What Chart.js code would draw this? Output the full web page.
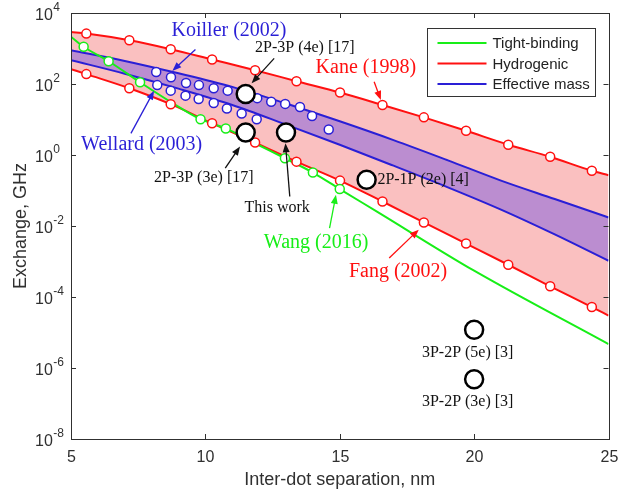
<!DOCTYPE html>
<html>
<head>
<meta charset="utf-8">
<script src="https://cdn.jsdelivr.net/npm/chart.js@4.4.0/dist/chart.umd.min.js"></script>
<style>
  html, body { margin: 0; padding: 0; background: #fff; }
</style>
</head>
<body>
<canvas id="chart" width="620" height="491"></canvas>
<script>
// hydrogenic curves (Kane upper, Fang lower), first/last entries are the line ends
const hydX = [5, 5.57, 7.17, 8.71, 10.25, 11.85, 13.39, 15.01, 16.59, 18.13, 19.70, 21.27, 22.83, 24.38, 25];
const kaneY = [2900, 2630, 1700, 955, 490, 245, 120, 57.5, 25.7, 11.5, 4.8, 1.95, 0.89, 0.36, 0.27];
const fangY = [263, 190, 76, 27, 7.8, 2.24, 0.65, 0.19, 0.049, 0.0126, 0.0032, 8.1e-4, 2.0e-4, 5.2e-5, 3.0e-5];

// effective mass band
const emX = [5, 7, 9, 11, 13, 15, 17, 19, 21, 23, 25];
const emUpperY = [891, 447, 200, 83, 28.2, 8.9, 2.63, 0.72, 0.19, 0.0575, 0.0174];
const emLowerY = [468, 195, 74, 25.7, 7.2, 1.95, 0.5, 0.125, 0.029, 0.0058, 0.00105];

// tight-binding (Wang 2016)
const tbX = [5, 5.47, 6.40, 7.57, 8.7, 9.82, 10.76, 11.9, 12.96, 14.0, 15.0, 16.4, 20, 25];
const tbY = [2140, 1120, 437, 112, 31.6, 10.2, 5.6, 2.04, 0.81, 0.32, 0.11, 0.025, 5.5e-4, 4.7e-6];
const tbMarkX = [5.47, 6.40, 7.57, 9.82, 10.76, 12.96, 14.0, 15.0];
const tbMarkY = [1120, 437, 112, 10.2, 5.6, 0.81, 0.32, 0.11];

// Koiller (2002) and Wellard (2003) points
const koillerX = [8.17, 8.72, 9.28, 9.76, 10.31, 10.83, 11.93, 12.45, 12.97, 13.52, 13.97, 14.59];
const koillerY = [219, 155, 107, 93, 76, 65, 40, 31.6, 27.5, 22.4, 12.6, 5.2];
const wellardX = [8.21, 8.71, 9.26, 9.75, 10.31, 10.80, 11.35, 11.91];
const wellardY = [93, 65, 47, 38, 29, 20.4, 14.8, 10.2];

// experiments
const expX = [11.5, 11.5, 13, 16, 20, 20];
const expY = [52, 4.3, 4.3, 0.2, 1.2e-5, 4.8e-7];

const xTicks = [5, 10, 15, 20, 25];
const yExps = [-8, -6, -4, -2, 0, 2, 4];
const legendItems = ['Tight-binding', 'Hydrogenic', 'Effective mass'];

const RED = '#ff1010';
const GREEN = '#18ee18';
const BLUE = '#2a1fd6';
const PINK = '#fac0c0';
const PURPLE = '#bb8dd0';
const AXIS = '#303030';
const SERIF = '"Liberation Serif", "Times New Roman", serif';
const SANS = '"Liberation Sans", Arial, sans-serif';

// text labels with arrows: [text, color, size, x, y, align, arrow]
const notes = [
    ['Koiller (2002)', BLUE, 20, 10.88, 3240, 'center', [9.63, 933, 8.77, 234]],
    ['Wellard (2003)', BLUE, 20, 7.63, 1.9, 'center', [7.23, 4.07, 8.09, 64.6]],
    ['2P-3P (4e) [17]', '#111', 16, 13.70, 1047, 'center', [12.56, 525, 11.72, 105]],
    ['Kane (1998)', RED, 20, 15.97, 288, 'center', [16.28, 115, 16.53, 35.5]],
    ['2P-3P (3e) [17]', '#111', 16, 9.94, 0.224, 'center', [10.74, 0.427, 11.29, 1.74]],
    ['This work', '#111', 16, 12.67, 0.0316, 'center', [13.14, 0.0676, 12.98, 2.14]],
    ['Wang (2016)', GREEN, 20, 14.12, 0.00339, 'center', [14.62, 0.0087, 14.86, 0.076]],
    ['Fang (2002)', RED, 20, 17.17, 5.2e-4, 'center', [16.84, 1.26e-3, 17.94, 7.9e-3]],
    ['2P-1P (2e) [4]', '#111', 16, 16.40, 0.2, 'left', null],
    ['3P-2P (5e) [3]', '#111', 16, 19.76, 2.75e-6, 'center', null],
    ['3P-2P (3e) [3]', '#111', 16, 19.76, 1.1e-7, 'center', null],
];

const pts = (xs, ys) => xs.map((x, i) => ({ x: x, y: ys[i] }));

function lineSet(data, color, extra) {
    return Object.assign({
        data: data, borderColor: color, borderWidth: 2, pointRadius: 0,
        cubicInterpolationMode: 'monotone', fill: false
    }, extra);
}

function markSet(data, color, r, w, order) {
    return {
        data: data, showLine: false, pointRadius: r, pointBorderWidth: w,
        pointBackgroundColor: '#fff', pointBorderColor: color, order: order
    };
}

function arrow(ctx, x1, y1, x2, y2, color) {
    const ang = Math.atan2(y2 - y1, x2 - x1);
    const len = 9, half = 3.5;
    ctx.strokeStyle = color;
    ctx.fillStyle = color;
    ctx.lineWidth = 1.3;
    ctx.beginPath();
    ctx.moveTo(x1, y1);
    ctx.lineTo(x2 - Math.cos(ang) * len * 0.8, y2 - Math.sin(ang) * len * 0.8);
    ctx.stroke();
    ctx.beginPath();
    ctx.moveTo(x2, y2);
    ctx.lineTo(x2 - Math.cos(ang) * len + Math.sin(ang) * half, y2 - Math.sin(ang) * len - Math.cos(ang) * half);
    ctx.lineTo(x2 - Math.cos(ang) * len - Math.sin(ang) * half, y2 - Math.sin(ang) * len + Math.cos(ang) * half);
    ctx.closePath();
    ctx.fill();
}

const frame = {
    id: 'frame',
    afterDraw(chart) {
        const { ctx, chartArea: a, scales: { x, y } } = chart;
        ctx.save();

        // box
        ctx.strokeStyle = AXIS;
        ctx.lineWidth = 1;
        ctx.strokeRect(Math.round(a.left) + 0.5, Math.round(a.top) + 0.5,
            Math.round(a.right - a.left), Math.round(a.bottom - a.top));

        ctx.fillStyle = AXIS;
        ctx.textBaseline = 'middle';
        ctx.font = '16px ' + SANS;
        ctx.textAlign = 'center';
        xTicks.forEach(v => {
            const px = Math.round(x.getPixelForValue(v)) + 0.5;
            ctx.beginPath();
            ctx.moveTo(px, a.bottom); ctx.lineTo(px, a.bottom - 5);
            ctx.moveTo(px, a.top); ctx.lineTo(px, a.top + 5);
            ctx.stroke();
            ctx.fillText(String(v), px, a.bottom + 19);
        });
        yExps.forEach(e => {
            const py = Math.round(y.getPixelForValue(Math.pow(10, e))) + 0.5;
            ctx.beginPath();
            ctx.moveTo(a.left, py); ctx.lineTo(a.left + 5, py);
            ctx.moveTo(a.right, py); ctx.lineTo(a.right - 5, py);
            ctx.stroke();
            ctx.textAlign = 'left';
            ctx.font = '16px ' + SANS;
            ctx.fillText('10', 35, py + 2);
            const w = ctx.measureText('10').width;
            ctx.font = '12px ' + SANS;
            ctx.fillText(String(e), 35 + w + 0.5, py - 6);
        });

        // axis titles
        ctx.font = '18px ' + SANS;
        ctx.textAlign = 'center';
        ctx.fillText('Inter-dot separation, nm', (a.left + a.right) / 2, a.bottom + 41);
        ctx.save();
        ctx.translate(21, (a.top + a.bottom) / 2);
        ctx.rotate(-Math.PI / 2);
        ctx.fillText('Exchange, GHz', 0, 0);
        ctx.restore();

        // notes
        notes.forEach(n => {
            const [text, color, size, nx, ny, align, arr] = n;
            ctx.font = size + 'px ' + SERIF;
            ctx.fillStyle = color;
            ctx.textAlign = align;
            ctx.fillText(text, x.getPixelForValue(nx), y.getPixelForValue(ny));
            if (arr) {
                arrow(ctx, x.getPixelForValue(arr[0]), y.getPixelForValue(arr[1]),
                    x.getPixelForValue(arr[2]), y.getPixelForValue(arr[3]), color);
            }
        });

        // legend
        const lx = 427.5, ly = 28.5, lw = 168, lh = 68;
        ctx.fillStyle = '#fff';
        ctx.fillRect(lx, ly, lw, lh);
        ctx.strokeStyle = '#333';
        ctx.lineWidth = 1;
        ctx.strokeRect(lx, ly, lw, lh);
        const lcol = [GREEN, RED, BLUE];
        ctx.font = '15px ' + SANS;
        ctx.textAlign = 'left';
        legendItems.forEach((t, i) => {
            const yy = ly + 14.5 + i * 20.5;
            ctx.strokeStyle = lcol[i];
            ctx.lineWidth = 2;
            ctx.beginPath();
            ctx.moveTo(lx + 10, yy); ctx.lineTo(lx + 59, yy);
            ctx.stroke();
            ctx.fillStyle = '#222';
            ctx.fillText(t, lx + 65, yy + 1);
        });

        ctx.restore();
    }
};

new Chart(document.getElementById('chart'), {
    type: 'line',
    data: {
        datasets: [
            lineSet(pts(hydX, kaneY), RED, { fill: 1, backgroundColor: PINK, order: 10 }),
            lineSet(pts(hydX, fangY), RED, { order: 9.8 }),
            lineSet(pts(emX, emUpperY), BLUE, { fill: 3, backgroundColor: PURPLE, order: 9 }),
            lineSet(pts(emX, emLowerY), BLUE, { order: 8.8 }),
            lineSet(pts(tbX, tbY), GREEN, { order: 8 }),
            markSet(pts(hydX.slice(1, -1), kaneY.slice(1, -1)), RED, 4.5, 1.5, 6),
            markSet(pts(hydX.slice(1, -1), fangY.slice(1, -1)), RED, 4.5, 1.5, 6),
            markSet(pts(tbMarkX, tbMarkY), GREEN, 4.5, 1.5, 5),
            markSet(pts(koillerX, koillerY), BLUE, 4.5, 1.5, 4),
            markSet(pts(wellardX, wellardY), BLUE, 4.5, 1.5, 4),
            markSet(pts(expX, expY), '#000', 9, 2.5, 1)
        ]
    },
    options: {
        responsive: false,
        animation: false,
        events: [],
        layout: { padding: { left: 71, top: 13, right: 8, bottom: 52 } },
        scales: {
            x: { type: 'linear', min: 5, max: 25, display: false },
            y: { type: 'logarithmic', min: 1e-8, max: 1e4, display: false }
        },
        plugins: {
            legend: { display: false },
            tooltip: { enabled: false }
        }
    },
    plugins: [frame]
});
</script>
</body>
</html>
